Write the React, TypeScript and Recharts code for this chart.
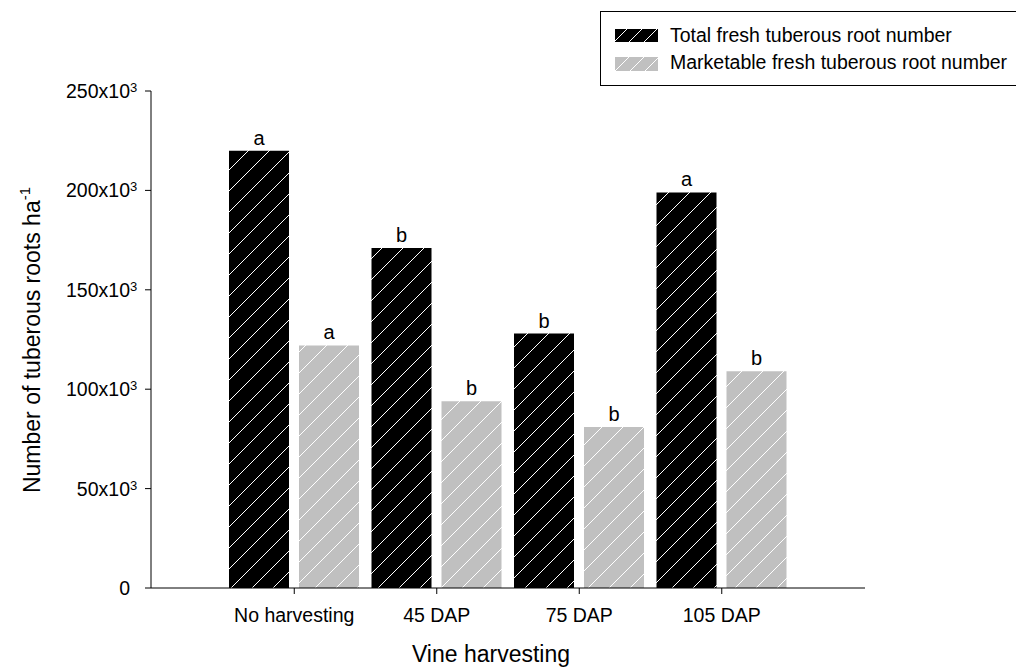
import { BarChart, Bar, XAxis, YAxis, Legend, LabelList } from 'recharts';

const categories = ['No harvesting', '45 DAP', '75 DAP', '105 DAP'];
const totalRootNumber = [220000, 171000, 128000, 199000];
const marketableRootNumber = [122000, 94000, 81000, 109000];
const totalLetters = ['a', 'b', 'b', 'a'];
const marketableLetters = ['a', 'b', 'b', 'b'];
const yTicks = [0, 50000, 100000, 150000, 200000, 250000];

const FONT = "'Liberation Sans', Arial, Helvetica, sans-serif";

const data = categories.map((name, i) => ({
  name,
  total: totalRootNumber[i],
  marketable: marketableRootNumber[i],
  totalLetter: totalLetters[i],
  marketableLetter: marketableLetters[i],
}));

// diagonal white hatch over a solid fill, tiled in user space so lines run on across bars
function Hatch({ id, fill, size }: { id: string; fill: string; size: number }) {
  const q = size / 4;
  return (
    <pattern id={id} patternUnits="userSpaceOnUse" width={size} height={size}>
      <rect width={size} height={size} fill={fill} />
      <path
        d={`M0,${size} L${size},0 M${-q},${q} L${q},${-q} M${size - q},${size + q} L${size + q},${size - q}`}
        stroke="#fff"
        strokeWidth={1}
      />
    </pattern>
  );
}

function YTick({ x, y, payload }: any) {
  const v = payload.value as number;
  if (v === 0) {
    return (
      <text x={x} y={y} dy="0.36em" textAnchor="end" fontSize={19.5} fontFamily={FONT} fill="#000">
        0
      </text>
    );
  }
  return (
    <g fontFamily={FONT} fill="#000">
      <text x={x} y={y} dy="0.36em" textAnchor="end" fontSize={19.5}>
        {`${v / 1000}x10`}
      </text>
      <text x={x} y={y + 1} textAnchor="start" fontSize={13}>
        3
      </text>
    </g>
  );
}

function XTick({ x, y, payload }: any) {
  return (
    <text x={x} y={y + 26} textAnchor="middle" fontSize={19.5} fontFamily={FONT} fill="#000">
      {payload.value}
    </text>
  );
}

function HatchLegend() {
  return (
    <svg width={420} height={76} style={{ display: 'block' }} fontFamily={FONT}>
      <defs>
        <Hatch id="legendBlack" fill="#000" size={15} />
        <Hatch id="legendGrey" fill="#c0c0c0" size={15} />
      </defs>
      <rect x={0.5} y={0.5} width={460} height={74} fill="#fff" stroke="#000" />
      <rect x={15} y={18} width={43} height={13} fill="url(#legendBlack)" />
      <text x={70} y={31} fontSize={19.5} fill="#000">
        Total fresh tuberous root number
      </text>
      <rect x={15} y={46} width={43} height={14} fill="url(#legendGrey)" />
      <text x={70} y={58} fontSize={19.5} fill="#000">
        Marketable fresh tuberous root number
      </text>
    </svg>
  );
}

export default function App() {
  return (
    <div
      style={{
        position: 'absolute',
        left: 0,
        top: 0,
        width: 1016,
        height: 667,
        overflow: 'hidden',
        background: '#fff',
      }}
    >
      <BarChart
        width={1016}
        height={667}
        data={data}
        margin={{ top: 91, right: 151, bottom: 0, left: 0 }}
        barGap={10}
        barSize={60}
      >
        <defs>
          <Hatch id="hatchBlack" fill="#000" size={21} />
          <Hatch id="hatchGrey" fill="#c0c0c0" size={21} />
        </defs>
        <XAxis
          dataKey="name"
          height={79}
          padding={{ left: 72, right: 72 }}
          interval={0}
          tickSize={6}
          tickMargin={2}
          axisLine={{ stroke: '#000' }}
          tickLine={{ stroke: '#000' }}
          tick={<XTick />}
          label={{
            content: () => (
              <text x={491} y={662} textAnchor="middle" fontSize={23} fontFamily={FONT} fill="#000">
                Vine harvesting
              </text>
            ),
          }}
        />
        <YAxis
          width={151}
          domain={[0, 250000]}
          ticks={yTicks}
          interval={0}
          tickSize={6}
          tickMargin={15}
          axisLine={{ stroke: '#000' }}
          tickLine={{ stroke: '#000' }}
          tick={<YTick />}
          label={{
            content: () => (
              <text
                x={40}
                y={340}
                transform="rotate(-90, 40, 340)"
                textAnchor="middle"
                fontSize={23}
                fontFamily={FONT}
                fill="#000"
              >
                Number of tuberous roots ha
                <tspan fontSize={15} dy={-10}>
                  -1
                </tspan>
              </text>
            ),
          }}
        />
        <Legend
          layout="vertical"
          align="center"
          verticalAlign="middle"
          content={<HatchLegend />}
          wrapperStyle={{ left: 600, top: 11, width: 420, height: 76 }}
        />
        <Bar dataKey="total" fill="url(#hatchBlack)" isAnimationActive={false}>
          <LabelList dataKey="totalLetter" position="top" offset={6} fill="#000" fontSize={20} fontFamily={FONT} />
        </Bar>
        <Bar dataKey="marketable" fill="url(#hatchGrey)" isAnimationActive={false}>
          <LabelList
            dataKey="marketableLetter"
            position="top"
            offset={6}
            fill="#000"
            fontSize={20}
            fontFamily={FONT}
          />
        </Bar>
      </BarChart>
    </div>
  );
}
